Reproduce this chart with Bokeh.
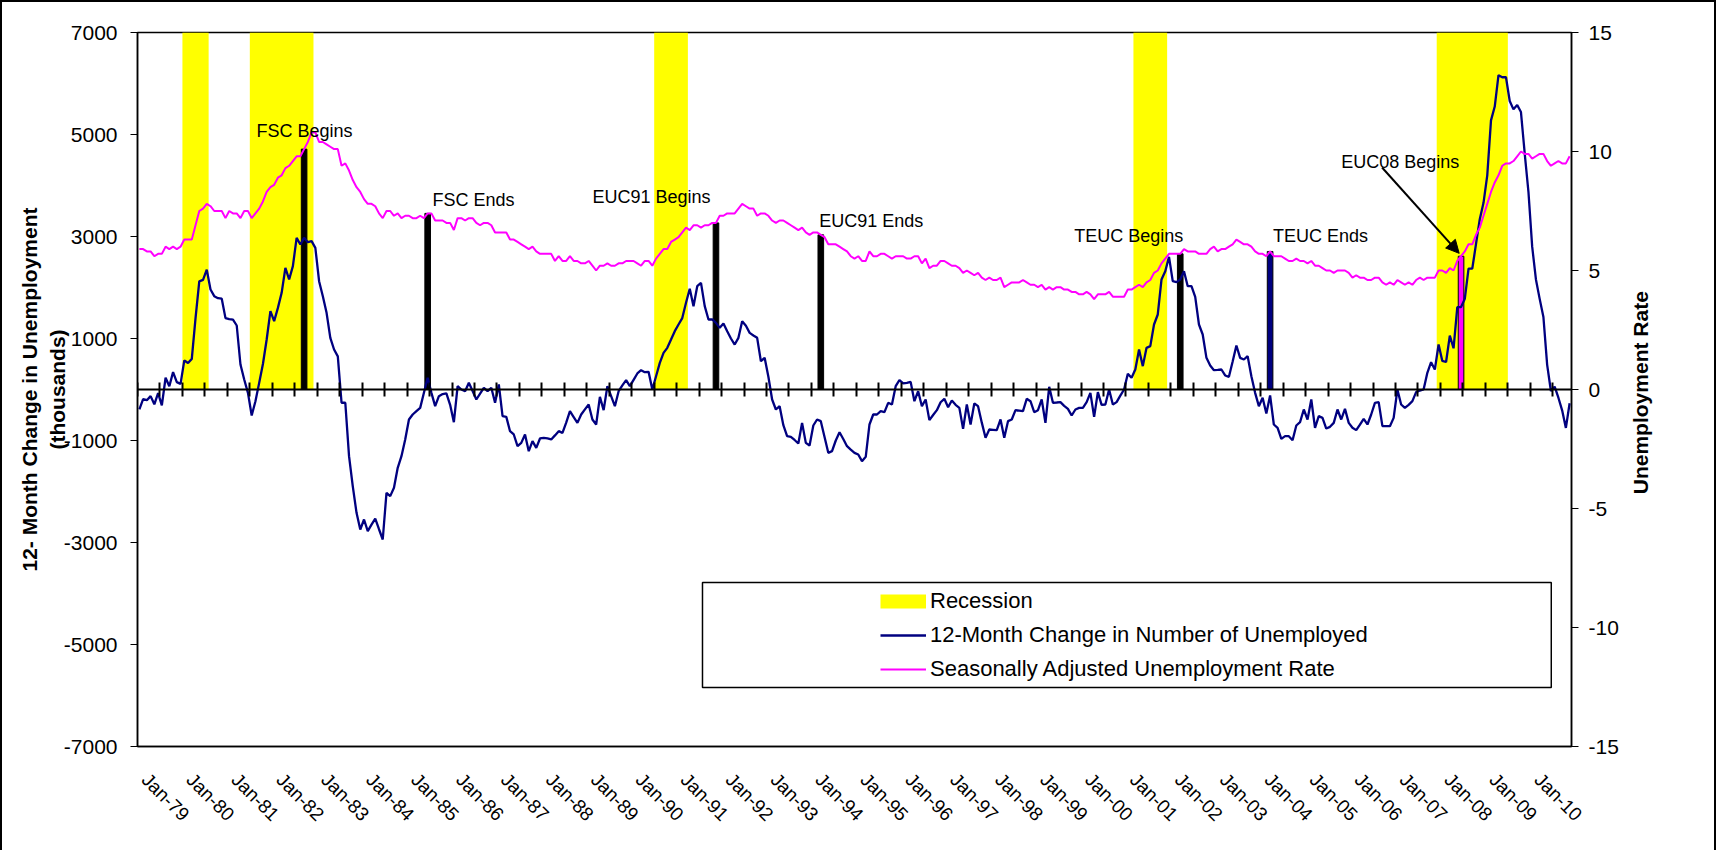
import math
from bokeh.plotting import figure
from bokeh.models import (Range1d, LinearAxis, FixedTicker, ColumnDataSource, Legend,
                          LegendItem, BoxAnnotation, Arrow, NormalHead)
from bokeh.core.properties import value
from bokeh.embed import file_html
from bokeh.resources import INLINE

# ---------------------------------------------------------------- data
MONTHS = ["Jan", "Feb", "Mar", "Apr", "May", "Jun", "Jul", "Aug", "Sep", "Oct", "Nov", "Dec"]
FIRST_YEAR = 1979  # series start: Jan-79, monthly

# 12-month change in number of unemployed (thousands), Jan-79 .. Nov-10
UNEMP_CHANGE = [
    -390, -190, -210, -130, -290, -70, -310, 230, 65, 340, 145, 110,            # 1979
    570, 520, 600, 1400, 2120, 2150, 2350, 1960, 1830, 1790, 1780, 1400,        # 1980
    1380, 1370, 1255, 490, 196, -65, -510, -229, 130, 500, 980, 1536,           # 1981
    1340, 1600, 1896, 2386, 2157, 2418, 2974, 2843, 2974, 2889, 2909, 2778,     # 1982
    2124, 1830, 1503, 1013, 784, 650, -260, -260, -1307, -1900, -2418, -2745,   # 1983
    -2549, -2777, -2650, -2531, -2740, -2941, -2026, -2091, -1928, -1536, -1307, -980,  # 1984
    -588, -490, -425, -360, -65, 229, -65, -327, -131, -90, -78, -300,          # 1985
    -641, 65, 0, -33, 131, -30, -196, -80, 33, -33, 33, -261,                   # 1986
    98, -523, -536, -817, -882, -1111, -1046, -882, -1209, -1013, -1144, -960,  # 1987
    -948, -960, -980, -900, -817, -850, -650, -425, -540, -654, -490, -390,     # 1988
    -294, -588, -686, -144, -405, 65, -130, -327, -33, 80, 183, 65,             # 1989
    190, 314, 379, 340, 346, 0, 261, 523, 719, 817, 980, 1144,                  # 1990
    1275, 1400, 1700, 1974, 1634, 2026, 2091, 1634, 1373, 1373, 1307, 1209,     # 1991
    1294, 1144, 1000, 882, 1013, 1340, 1250, 1111, 1060, 1013, 555, 621,        # 1992
    250, -196, -392, -327, -700, -915, -928, -990, -1059, -654, -1046, -1098,   # 1993
    -706, -588, -621, -930, -1242, -1209, -1000, -837, -970, -1111, -1180, -1242,  # 1994
    -1275, -1405, -1320, -686, -490, -490, -425, -444, -261, -294, 65, 183,     # 1995
    118, 130, 150, -229, -33, -327, -196, -601, -500, -405, -250, -183,         # 1996
    -347, -216, -300, -360, -771, -294, -686, -274, -327, -650, -948, -784,     # 1997
    -790, -797, -588, -948, -621, -588, -405, -415, -425, -183, -229, -444,     # 1998
    -405, -196, -654, 52, -261, -255, -248, -320, -379, -510, -392, -360,       # 1999
    -360, -248, -65, -536, -52, -301, -294, 0, -294, -248, -120, 0,             # 2000
    307, 229, 392, 784, 458, 817, 850, 1275, 1471, 2157, 2320, 2601,            # 2001
    2124, 2105, 2157, 2320, 2026, 2026, 1817, 1275, 1078, 621, 471, 379,        # 2002
    385, 392, 275, 248, 550, 863, 621, 588, 654, 261, -65, -327,                # 2003
    -163, -470, -118, -686, -752, -967, -915, -915, -994, -706, -641, -392,     # 2004
    -588, -196, -752, -523, -556, -765, -732, -654, -392, -588, -379, -654,     # 2005
    -750, -797, -690, -575, -686, -490, -261, -248, -719, -719, -719, -556,     # 2006
    0, -294, -360, -300, -229, -52, -20, 0, 327, 536, 392, 882,                 # 2007
    561, 539, 1055, 808, 1616, 1616, 1777, 2369, 2369, 2855, 3340, 3661,        # 2008
    4200, 5277, 5548, 6162, 6123, 6123, 5656, 5493, 5579, 5440, 4632, 3877,     # 2009
    2800, 2157, 1777, 1422, 484, -30, 55, -161, -408, -753, -269,               # 2010
]

# Seasonally adjusted unemployment rate (%), Jan-79 .. Nov-10
UNEMP_RATE = [
    5.9, 5.9, 5.8, 5.8, 5.6, 5.7, 5.7, 6.0, 5.9, 6.0, 5.9, 6.0,
    6.3, 6.3, 6.3, 6.9, 7.5, 7.6, 7.8, 7.7, 7.5, 7.5, 7.5, 7.2,
    7.5, 7.4, 7.4, 7.2, 7.5, 7.5, 7.2, 7.4, 7.6, 7.9, 8.3, 8.5,
    8.6, 8.9, 9.0, 9.3, 9.4, 9.6, 9.8, 9.8, 10.1, 10.4, 10.8, 10.8,
    10.4, 10.4, 10.3, 10.2, 10.1, 10.1, 9.4, 9.5, 9.2, 8.8, 8.5, 8.3,
    8.0, 7.8, 7.8, 7.7, 7.4, 7.2, 7.5, 7.5, 7.3, 7.4, 7.2, 7.3,
    7.3, 7.2, 7.2, 7.3, 7.2, 7.4, 7.4, 7.1, 7.1, 7.1, 7.0, 7.0,
    6.7, 7.2, 7.2, 7.1, 7.2, 7.2, 7.0, 6.9, 7.0, 7.0, 6.9, 6.6,
    6.6, 6.6, 6.6, 6.3, 6.3, 6.2, 6.1, 6.0, 5.9, 6.0, 5.8, 5.7,
    5.7, 5.7, 5.7, 5.4, 5.6, 5.4, 5.4, 5.6, 5.4, 5.4, 5.3, 5.3,
    5.4, 5.2, 5.0, 5.2, 5.2, 5.3, 5.2, 5.2, 5.3, 5.3, 5.4, 5.4,
    5.4, 5.3, 5.2, 5.4, 5.4, 5.2, 5.5, 5.7, 5.9, 5.9, 6.2, 6.3,
    6.4, 6.6, 6.8, 6.7, 6.9, 6.9, 6.8, 6.9, 6.9, 7.0, 7.0, 7.3,
    7.3, 7.4, 7.4, 7.4, 7.6, 7.8, 7.7, 7.6, 7.6, 7.3, 7.4, 7.4,
    7.3, 7.1, 7.0, 7.1, 7.1, 7.0, 6.9, 6.8, 6.7, 6.8, 6.6, 6.5,
    6.6, 6.6, 6.5, 6.4, 6.1, 6.1, 6.1, 6.0, 5.9, 5.8, 5.6, 5.5,
    5.6, 5.4, 5.4, 5.8, 5.6, 5.6, 5.7, 5.7, 5.6, 5.5, 5.6, 5.6,
    5.6, 5.5, 5.5, 5.6, 5.6, 5.3, 5.5, 5.1, 5.2, 5.2, 5.4, 5.4,
    5.3, 5.2, 5.2, 5.1, 4.9, 5.0, 4.9, 4.8, 4.9, 4.7, 4.6, 4.7,
    4.6, 4.6, 4.7, 4.3, 4.4, 4.5, 4.5, 4.5, 4.6, 4.5, 4.4, 4.4,
    4.3, 4.4, 4.2, 4.3, 4.2, 4.3, 4.3, 4.2, 4.2, 4.1, 4.1, 4.0,
    4.0, 4.1, 4.0, 3.8, 4.0, 4.0, 4.0, 4.1, 3.9, 3.9, 3.9, 3.9,
    4.2, 4.2, 4.3, 4.4, 4.3, 4.5, 4.6, 4.9, 5.0, 5.3, 5.5, 5.7,
    5.7, 5.7, 5.7, 5.9, 5.8, 5.8, 5.8, 5.7, 5.7, 5.7, 5.9, 6.0,
    5.8, 5.9, 5.9, 6.0, 6.1, 6.3, 6.2, 6.1, 6.1, 6.0, 5.8, 5.7,
    5.7, 5.6, 5.8, 5.6, 5.6, 5.6, 5.5, 5.4, 5.4, 5.5, 5.4, 5.4,
    5.3, 5.4, 5.2, 5.2, 5.1, 5.0, 5.0, 4.9, 5.0, 5.0, 5.0, 4.9,
    4.7, 4.8, 4.7, 4.7, 4.6, 4.6, 4.7, 4.7, 4.5, 4.4, 4.5, 4.4,
    4.6, 4.5, 4.4, 4.5, 4.4, 4.6, 4.7, 4.6, 4.7, 4.7, 4.7, 5.0,
    5.0, 4.9, 5.1, 5.0, 5.4, 5.6, 5.8, 6.1, 6.1, 6.5, 6.8, 7.3,
    7.8, 8.3, 8.7, 9.0, 9.4, 9.5, 9.5, 9.6, 9.8, 10.0, 9.9, 9.9,
    9.7, 9.8, 9.9, 9.9, 9.6, 9.4, 9.5, 9.6, 9.5, 9.5, 9.8,
]

X_LABELS = ["Jan-79", "Jan-80", "Jan-81", "Jan-82", "Jan-83", "Jan-84", "Jan-85", "Jan-86",
            "Jan-87", "Jan-88", "Jan-89", "Jan-90", "Jan-91", "Jan-92", "Jan-93", "Jan-94",
            "Jan-95", "Jan-96", "Jan-97", "Jan-98", "Jan-99", "Jan-00", "Jan-01", "Jan-02",
            "Jan-03", "Jan-04", "Jan-05", "Jan-06", "Jan-07", "Jan-08", "Jan-09", "Jan-10"]
LEFT_TICKS = [-7000, -5000, -3000, -1000, 1000, 3000, 5000, 7000]
LEFT_TICK_LABELS = ["-7000", "-5000", "-3000", "-1000", "1000", "3000", "5000", "7000"]
RIGHT_TICKS = [-15, -10, -5, 0, 5, 10, 15]
RIGHT_TICK_LABELS = ["-15", "-10", "-5", "0", "5", "10", "15"]

RECESSION_START = ["Jan-80", "Jul-81", "Jul-90", "Mar-01", "Dec-07"]
RECESSION_END = ["Jul-80", "Nov-82", "Mar-91", "Nov-01", "Jun-09"]
RECESSION_HEIGHT = 7000

PROGRAM_EVENTS = ["FSC Begins", "FSC Ends", "EUC91 Begins", "EUC91 Ends",
                  "TEUC Begins", "TEUC Ends", "EUC08 Begins"]
PROGRAM_MONTHS = ["Sep-82", "Jun-85", "Nov-91", "Mar-94", "Mar-02", "Mar-04", "Jun-08"]
PROGRAM_RATE = [10.1, 7.4, 7.0, 6.5, 5.7, 5.8, 5.6]

LEFT_TITLE = "12- Month Change in Unemployment\n(thousands)"
RIGHT_TITLE = "Unemployment Rate"

# ---------------------------------------------------------------- layout / style
PROGRAM_FILL = ["black", "black", "black", "black", "black", "#000080", "#FF00FF"]
# text positions (months since Jan-79, thousands on left axis)
ANNOT_X = [31.8, 78.8, 121.5, 182.1, 250.2, 303.3, 321.5]
ANNOT_Y = [5078, 3706, 3770, 3300, 3019, 3005, 4457]
RIGHT_TITLE_START = -4.4   # where the bottom end of the rotated right title sits (rate axis)
FONT = "Liberation Sans"


def month_index(s):
    mon, yy = s.split("-")
    yy = int(yy)
    year = 1900 + yy if yy >= 50 else 2000 + yy
    return (year - FIRST_YEAR) * 12 + MONTHS.index(mon)


N = len(UNEMP_CHANGE)
xs = [i + 0.5 for i in range(N)]

p = figure(width=1716, height=850, output_backend="svg", toolbar_location=None,
           x_range=Range1d(0, N), y_range=Range1d(-7000, 7000),
           min_border_left=135, min_border_right=147, min_border_top=30,
           min_border_bottom=106, background_fill_color="white", border_fill_color="white")
p.extra_y_ranges = {"rate": Range1d(-15, 15)}
p.grid.visible = False
p.outline_line_color = "black"
p.outline_line_width = 1.5
p.styles = {"border-left": "2px solid black", "border-top": "2px solid black",
            "border-right": "2px solid black"}

# recession shading
rec_src = ColumnDataSource(dict(
    left=[month_index(s) for s in RECESSION_START],
    right=[month_index(e) + 1 for e in RECESSION_END],
    top=[RECESSION_HEIGHT] * len(RECESSION_START)))
p.quad(left="left", right="right", bottom=0, top="top", source=rec_src,
       fill_color="#FFFF00", line_color=None)

# program bars (secondary axis)
prog_src = ColumnDataSource(dict(
    x=[month_index(m) + 0.5 for m in PROGRAM_MONTHS], top=PROGRAM_RATE, fill=PROGRAM_FILL))
p.vbar(x="x", width=1.5, bottom=0, top="top", source=prog_src, y_range_name="rate",
       fill_color="fill", line_color="black", line_width=1)

blue = p.line(xs, UNEMP_CHANGE, line_color="#000080", line_width=2.3)
pink = p.line(xs, UNEMP_RATE, y_range_name="rate", line_color="#FF00FF", line_width=2)

# annotations
p.text(x=ANNOT_X, y=ANNOT_Y, text=PROGRAM_EVENTS, text_font=value(FONT),
       text_font_size="18px", text_baseline="middle", text_align="left", text_color="black")
p.add_layout(Arrow(end=NormalHead(size=13, fill_color="black", line_color="black", line_width=1),
                   x_start=332.4, y_start=4353, x_end=353.0, y_end=2670,
                   line_color="black", line_width=2))

# bottom axis with labels
xa = p.below[0]
tick_pos = [month_index(l) + 2 for l in X_LABELS]
xa.ticker = FixedTicker(ticks=tick_pos)
xa.major_label_overrides = {t: l for t, l in zip(tick_pos, X_LABELS)}
xa.major_label_orientation = -math.pi / 4
xa.major_tick_in = 0
xa.major_tick_out = 0
xa.minor_tick_line_color = None
xa.major_label_standoff = 30
xa.major_label_text_font = FONT
xa.major_label_text_font_size = "19px"
xa.major_label_text_color = "black"
xa.axis_line_color = "black"
xa.axis_line_width = 1.5

# zero line axis with crossing ticks every 6 months (no labels)
zero_axis = LinearAxis(fixed_location=0, ticker=FixedTicker(ticks=list(range(0, N + 1, 6))),
                       major_tick_in=7, major_tick_out=7, major_tick_line_width=2,
                       major_tick_line_color="black", axis_line_width=2, axis_line_color="black",
                       minor_tick_line_color=None, major_label_text_color=None,
                       major_label_text_alpha=0, major_label_standoff=0)
p.add_layout(zero_axis, "below")

ya = p.left[0]
ya.ticker = FixedTicker(ticks=LEFT_TICKS)
ya.major_label_overrides = {t: l for t, l in zip(LEFT_TICKS, LEFT_TICK_LABELS)}
ya.major_tick_out = 7
ya.major_tick_in = 0
ya.minor_tick_line_color = None
ya.major_label_standoff = 13
ya.major_label_text_font = FONT
ya.major_label_text_font_size = "21px"
ya.major_label_text_color = "black"
ya.axis_line_color = "black"
ya.axis_line_width = 1.5
ya.axis_label = LEFT_TITLE
ya.axis_label_standoff = -8
ya.axis_label_text_font = FONT
ya.axis_label_text_font_size = "21px"
ya.axis_label_text_font_style = "bold"
ya.axis_label_text_color = "black"

ra = LinearAxis(y_range_name="rate", ticker=FixedTicker(ticks=RIGHT_TICKS),
                major_label_overrides={t: l for t, l in zip(RIGHT_TICKS, RIGHT_TICK_LABELS)},
                major_tick_out=7, major_tick_in=0, minor_tick_line_color=None,
                major_label_standoff=10, major_label_text_font=FONT,
                major_label_text_font_size="21px", major_label_text_color="black",
                axis_line_color="black", axis_line_width=1.5)
p.add_layout(ra, "right")

# right-hand title, reading bottom-to-top (drawn as a single rotated tick label)
rt = LinearAxis(y_range_name="rate", ticker=FixedTicker(ticks=[RIGHT_TITLE_START]),
                major_label_overrides={RIGHT_TITLE_START: RIGHT_TITLE},
                major_label_orientation=math.pi / 2, major_tick_out=0, major_tick_in=0,
                minor_tick_line_color=None, axis_line_color=None, major_label_standoff=19,
                major_label_text_font=FONT, major_label_text_font_size="21px",
                major_label_text_font_style="bold", major_label_text_color="black")
p.add_layout(rt, "right")

# legend frame + legend
p.add_layout(BoxAnnotation(left=150.9, right=377.6, top=-3785, bottom=-5845,
                           fill_color="white", fill_alpha=1.0, line_color="black",
                           line_width=1.5, line_alpha=1.0))
rec_leg = p.line(x=[float("nan"), float("nan")], y=[float("nan"), float("nan")],
                 line_color="#FFFF00", line_width=14)
legend = Legend(items=[LegendItem(label="Recession", renderers=[rec_leg]),
                       LegendItem(label="12-Month Change in Number of Unemployed", renderers=[blue]),
                       LegendItem(label="Seasonally Adjusted Unemployment Rate", renderers=[pink])],
                location=(743, 64), orientation="vertical", border_line_color=None,
                background_fill_alpha=0, padding=0, margin=0, spacing=8,
                glyph_width=46, glyph_height=26, label_height=26, label_standoff=4,
                label_text_font=FONT, label_text_font_size="22px", label_text_color="black")
p.add_layout(legend)

open("out.html", "w").write(file_html(p, INLINE))
